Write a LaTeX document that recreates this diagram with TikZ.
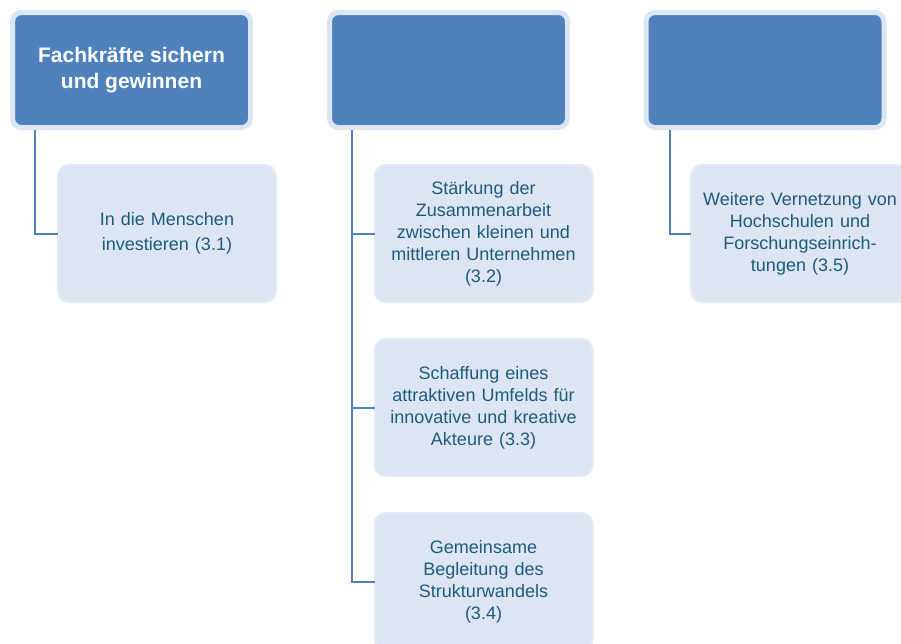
\documentclass[tikz,border=0pt]{standalone}
\usepackage{fontspec}
\setmainfont{Liberation Sans}
\definecolor{headblue}{HTML}{4F81BD}
\definecolor{headrim}{HTML}{DCE6F2}
\definecolor{itemfill}{HTML}{DCE5F1}
\definecolor{itemrim}{HTML}{E5EBF5}
\definecolor{itemtext}{HTML}{1D5C7C}
\begin{document}
\begin{tikzpicture}[x=1pt,y=-1pt,
    headbox/.style={draw=headrim,fill=headblue,line width=5pt,rounded corners=9pt,
      minimum width=238pt,minimum height=115pt,outer sep=0pt,text=white,align=center,
      font=\fontsize{21}{26}\selectfont\bfseries},
    itembox/.style={draw=itemrim,fill=itemfill,line width=2pt,rounded corners=11pt,
      minimum width=218pt,minimum height=137pt,outer sep=0pt,text=itemtext,align=center,
      text width=205pt,font=\fontsize{18}{22}\selectfont},
    link/.style={draw=headblue,line width=2pt}]
  \useasboundingbox (0,0) rectangle (901,643);

  \node[headbox] (head1) at (131.5,70) {Fachkräfte sichern\\und gewinnen};
  \node[headbox] (head2) at (448.5,70) {};
  \node[headbox] (head3) at (765,70) {};

  \node[itembox,font=\fontsize{18}{25}\selectfont] (item1) at (167,233.5) {In die Menschen\\investieren (3.1)};
  \node[itembox] (item2) at (483.5,233.5) {Stärkung der\\Zusammenarbeit\\zwischen kleinen und\\mittleren Unternehmen\\(3.2)};
  \node[itembox] (item3) at (483.5,407.5) {Schaffung eines\\attraktiven Umfelds für\\innovative und kreative\\Akteure (3.3)};
  \node[itembox] (item4) at (483.5,581.5) {Gemeinsame\\Begleitung des\\Strukturwandels\\(3.4)};
  \node[itembox] (item5) at (800,233.5) {Weitere Vernetzung von\\Hochschulen und\\Forschungseinrich-\\tungen (3.5)};

  \draw[link] ([xshift=22.5pt,yshift=-2.5pt]head1.south west) |- (item1.west);
  \draw[link] ([xshift=22.5pt,yshift=-2.5pt]head2.south west) |- (item2.west);
  \draw[link] ([xshift=22.5pt,yshift=-2.5pt]head2.south west) |- (item3.west);
  \draw[link] ([xshift=22.5pt,yshift=-2.5pt]head2.south west) |- (item4.west);
  \draw[link] ([xshift=23.5pt,yshift=-2.5pt]head3.south west) |- (item5.west);
\end{tikzpicture}
\end{document}
